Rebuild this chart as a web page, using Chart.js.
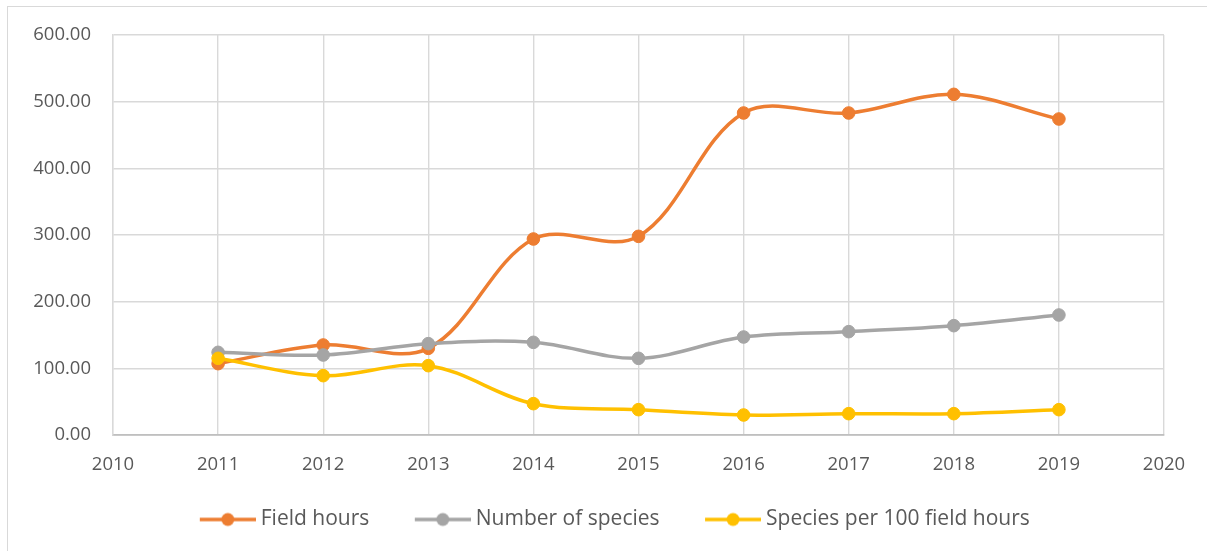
<!DOCTYPE html>
<html>
<head>
<meta charset="utf-8">
<script src="https://cdn.jsdelivr.net/npm/chart.js@4/dist/chart.umd.min.js"></script>
<style>
    body { margin: 0; background: #fff; }
    .wrap { position: relative; width: 1207px; height: 551px; overflow: hidden; }
    .frame { position: absolute; left: 7px; top: 6px; width: 1300px; height: 700px;
             border-left: 1.5px solid #d9d9d9; border-top: 1.5px solid #d9d9d9; }
    #chart { position: absolute; left: 0; top: 0; }
</style>
</head>
<body>
<div class="wrap">
    <div class="frame"></div>
    <canvas id="chart" width="1207" height="551"></canvas>
</div>
<script>
const years = [2011, 2012, 2013, 2014, 2015, 2016, 2017, 2018, 2019];
const fieldHours = [107, 135, 130, 294, 298, 483, 483, 511, 474];
const numberOfSpecies = [124, 120, 137, 139, 115, 147, 155, 164, 180];
const speciesPer100 = [115, 89, 104, 47, 38, 30, 32, 32, 38];

const seriesNames = ["Field hours", "Number of species", "Species per 100 field hours"];
const seriesColors = ["#ED7D31", "#A5A5A5", "#FFC000"];

const textColor = "#595959";
const fontFamily = "'Open Sans', sans-serif";

// Legend marker: line with a dot, with some empty room on the left for item spacing
const markerGap = 41;
const markerLen = 56;
function legendMarker(color) {
    const c = document.createElement("canvas");
    c.width = markerGap + markerLen;
    c.height = 16;
    const ctx = c.getContext("2d");
    ctx.strokeStyle = color;
    ctx.lineWidth = 3.5;
    ctx.beginPath();
    ctx.moveTo(markerGap, 8);
    ctx.lineTo(markerGap + markerLen, 8);
    ctx.stroke();
    ctx.fillStyle = color;
    ctx.beginPath();
    ctx.arc(markerGap + markerLen / 2, 8, 6.5, 0, Math.PI * 2);
    ctx.fill();
    return c;
}

function toPoints(values) {
    return values.map((v, i) => ({ x: years[i], y: v }));
}

const allValues = [fieldHours, numberOfSpecies, speciesPer100];

const datasets = allValues.map((values, i) => ({
    label: seriesNames[i],
    data: toPoints(values),
    borderColor: seriesColors[i],
    backgroundColor: seriesColors[i],
    borderWidth: 3.5,
    pointRadius: 6.3,
    pointBorderWidth: 1,
    pointBackgroundColor: seriesColors[i],
    pointBorderColor: seriesColors[i],
    tension: 0.35,
    fill: false,
    order: 3 - i,
}));

new Chart(document.getElementById("chart").getContext("2d"), {
    type: "line",
    data: { datasets: datasets },
    options: {
        responsive: false,
        animation: false,
        devicePixelRatio: 1,
        layout: { padding: { left: 30, right: 43, top: 35, bottom: 11 } },
        plugins: {
            tooltip: { enabled: false },
            legend: {
                position: "bottom",
                labels: {
                    color: textColor,
                    font: { family: fontFamily, size: 21 },
                    usePointStyle: true,
                    pointStyleWidth: markerGap + markerLen - 11,
                    boxHeight: 16,
                    padding: 10,
                    generateLabels: (chart) => chart.data.datasets.map((ds, i) => ({
                        text: ds.label,
                        fontColor: textColor,
                        pointStyle: legendMarker(seriesColors[i]),
                        lineWidth: 0,
                        strokeStyle: "transparent",
                        fillStyle: "transparent",
                        datasetIndex: i,
                    })),
                },
            },
        },
        scales: {
            x: {
                type: "linear",
                min: 2010,
                max: 2020,
                ticks: {
                    stepSize: 1,
                    color: textColor,
                    font: { family: fontFamily, size: 18.5 },
                    padding: 19,
                    callback: (v) => String(v),
                },
                grid: { color: "#d9d9d9", lineWidth: 1.4, drawTicks: false },
                border: { color: "#bfbfbf", width: 1.8 },
                afterFit: (scale) => { scale.height = 64; },
            },
            y: {
                min: 0,
                max: 600,
                ticks: {
                    stepSize: 100,
                    color: textColor,
                    font: { family: fontFamily, size: 18.5 },
                    padding: 22,
                    callback: (v) => v.toFixed(2),
                },
                grid: { color: "#d9d9d9", lineWidth: 1.4, drawTicks: false },
                border: { color: "#d9d9d9", width: 1.4 },
                afterFit: (scale) => { scale.width = 83; },
            },
        },
    },
});
</script>
</body>
</html>
